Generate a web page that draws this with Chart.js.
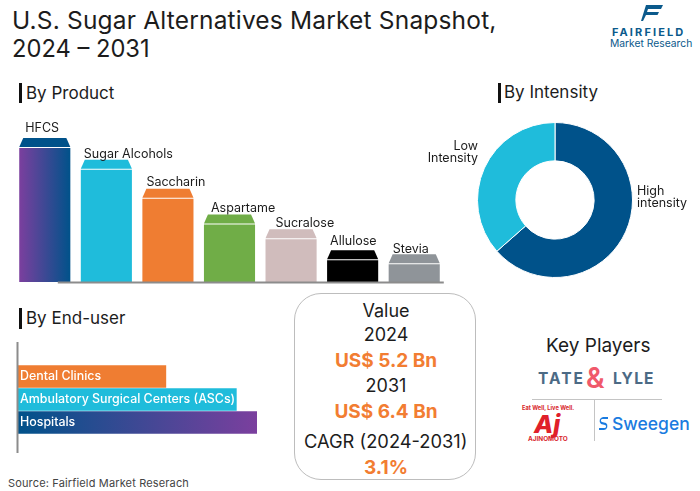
<!DOCTYPE html>
<html>
<head>
<meta charset="utf-8">
<script src="https://cdn.jsdelivr.net/npm/chart.js@4"></script>
<style>
  html, body { margin: 0; padding: 0; background: #fff; }
  #page { position: relative; width: 700px; height: 491px; overflow: hidden; font-family: Inter, "Noto Sans", sans-serif; color: #1c1c1c; }
  #page canvas { position: absolute; }
  .t { position: absolute; white-space: nowrap; line-height: 1; }
  .c { left: 296px; width: 180px; text-align: center; }
  .orange { color: #f27d32; font-weight: 700; }
  .tick { position: absolute; width: 3px; background: #111; }
  .head { font-size: 17px; }
</style>
</head>
<body>
<div id="page">
  <div class="t" style="left:12px;top:8px;font-size:24.5px;letter-spacing:0.18px;">U.S. Sugar Alternatives Market Snapshot,</div>
  <div class="t" style="left:12px;top:37px;font-size:23.7px;">2024 – 2031</div>

  <svg style="position:absolute;left:640px;top:5px" width="24" height="17" viewBox="0 0 24 17">
    <path d="M6 0H23L21 4H8L7 7H19L17.5 10H6L3 16H1Z" fill="#0b5a8c"/>
  </svg>
  <div class="t" style="left:612px;top:27px;font-size:11px;font-weight:700;letter-spacing:2.1px;color:#0b5a8c;">FAIRFIELD</div>
  <div class="t" style="left:610px;top:38px;font-size:10.3px;color:#0b5a8c;">Market Research</div>

  <div class="tick" style="left:19px;top:83px;height:20px;"></div>
  <div class="t head" style="left:26px;top:85px;">By Product</div>
  <div class="tick" style="left:498px;top:83px;height:20px;"></div>
  <div class="t head" style="left:504px;top:84px;">By Intensity</div>
  <div class="tick" style="left:19px;top:308px;height:21px;"></div>
  <div class="t head" style="left:26px;top:310px;">By End-user</div>

  <canvas id="productChart" width="431" height="175" style="left:14px;top:109px;"></canvas>
  <canvas id="intensityChart" width="270" height="170" style="left:420px;top:115px;"></canvas>
  <canvas id="endUserChart" width="260" height="115" style="left:16px;top:340px;"></canvas>

  <div style="position:absolute;left:294px;top:293px;width:180px;height:185px;border:1px solid #bdbdbd;border-radius:27px;"></div>
  <div class="t c" style="top:302px;font-size:18px;">Value</div>
  <div class="t c" style="top:326px;font-size:18px;">2024</div>
  <div class="t c orange" style="top:351px;font-size:19px;">US$ 5.2 Bn</div>
  <div class="t c" style="top:377px;font-size:18px;">2031</div>
  <div class="t c orange" style="top:402px;font-size:19px;">US$ 6.4 Bn</div>
  <div class="t" style="left:304px;top:432px;font-size:18.3px;">CAGR (2024-2031)</div>
  <div class="t c orange" style="top:458px;font-size:19px;">3.1%</div>

  <div class="t" style="left:546px;top:336px;font-size:19px;">Key Players</div>
  <div class="t" style="left:538px;top:371px;font-size:15.5px;font-weight:700;letter-spacing:2px;color:#4c6a85;">TATE</div>
  <div class="t" style="left:586px;top:364px;font-size:28px;font-weight:600;color:#f0596b;">&amp;</div>
  <div class="t" style="left:613px;top:371px;font-size:15.5px;font-weight:700;letter-spacing:1.2px;color:#4c6a85;">LYLE</div>
  <div style="position:absolute;left:532px;top:399px;width:130px;height:1px;background:#c4c4c4;"></div>
  <div style="position:absolute;left:594px;top:399px;width:1px;height:42px;background:#c4c4c4;"></div>
  <div class="t" style="left:522px;top:405px;font-size:5.7px;font-weight:700;color:#d8262c;">Eat Well, Live Well.</div>
  <div class="t" style="left:534px;top:412px;font-size:25px;font-weight:800;font-style:italic;color:#e0202a;">Aj</div>
  <div class="t" style="left:528px;top:436px;font-size:6.4px;font-weight:700;color:#d8262c;">AJINOMOTO</div>
  <svg style="position:absolute;left:597px;top:416px" width="13" height="15" viewBox="0 0 13 15">
    <path d="M11 1H6A4 4 0 0 0 4 8L8 9A1.5 1.5 0 0 1 7 12H2V14H7A4 4 0 0 0 9 7L5 6A1.5 1.5 0 0 1 6 3H11Z" fill="#1a7be0"/>
  </svg>
  <div class="t" style="left:612px;top:415px;font-size:17.5px;font-weight:500;color:#1a7be0;">Sweegen</div>

  <div class="t" style="left:8px;top:478px;font-size:11px;letter-spacing:0.15px;color:#444;">Source: Fairfield Market Reserach</div>
</div>

<script>
const productLabels = ["HFCS", "Sugar Alcohols", "Saccharin", "Aspartame", "Sucralose", "Allulose", "Stevia"];
const productValues = [100, 83.7, 62.2, 42.9, 31.9, 16.3, 13.3];
const intensityLabels = [["High", "intensity"], ["Low", "Intensity"]];
const intensityValues = [63.5, 36.5];
const endUserLabels = ["Dental Clinics", "Ambulatory Surgical Centers (ASCs)", "Hospitals"];
const endUserValues = [62, 91.5, 100];

const productColors = ["#00528a", "#1fbcdb", "#ef7d32", "#70ad47", "#d0bcbc", "#000000", "#8f9499"];
const labelShift = [6, 3, 4, 7, 10, 3, 4];
const labelLift = [20, 16, 16, 16, 16, 19, 15];
const LABEL_FONT = "12.5px Inter, 'Noto Sans', sans-serif";

Chart.defaults.animation = false;
Chart.defaults.responsive = false;
Chart.defaults.plugins.legend.display = false;
Chart.defaults.plugins.tooltip.enabled = false;

// ---------------------------
// BY PRODUCT
// ---------------------------
const productCaps = {
    id: "productCaps",
    afterDatasetsDraw(chart) {
        const ctx = chart.ctx;
        const bars = chart.getDatasetMeta(0).data;
        const base = chart.scales.y.bottom;

        ctx.save();
        ctx.fillStyle = "#8c8c8c";
        ctx.fillRect(bars[0].x + 13, base - 0.5, 386, 2);

        bars.forEach((bar, i) => {
            const half = bar.width / 2;
            ctx.fillStyle = productColors[i];
            ctx.beginPath();
            ctx.moveTo(bar.x - half, bar.y - 1);
            ctx.lineTo(bar.x - half + 4, bar.y - 10);
            ctx.lineTo(bar.x + half - 4, bar.y - 10);
            ctx.lineTo(bar.x + half, bar.y - 1);
            ctx.closePath();
            ctx.fill();

            ctx.fillStyle = "#1c1c1c";
            ctx.font = LABEL_FONT;
            ctx.textBaseline = "middle";
            ctx.fillText(productLabels[i], bar.x - half + labelShift[i], bar.y - labelLift[i]);
        });
        ctx.restore();
    }
};

new Chart(document.getElementById("productChart"), {
    type: "bar",
    data: {
        labels: productLabels,
        datasets: [{
            data: productValues,
            barPercentage: 0.83,
            categoryPercentage: 1,
            backgroundColor: c => {
                if (c.dataIndex !== 0 || !c.chart.chartArea) return productColors[c.dataIndex];
                const area = c.chart.chartArea;
                const step = area.width / productValues.length;
                const pad = step * (1 - 0.83) / 2;
                const g = c.chart.ctx.createLinearGradient(area.left + pad, 0, area.left + step - pad, 0);
                g.addColorStop(0, "#7b3f9e");
                g.addColorStop(1, "#00528a");
                return g;
            }
        }]
    },
    options: {
        layout: { padding: { top: 39, bottom: 2 } },
        scales: {
            x: { display: false },
            y: { display: false, min: 0, max: 100 }
        }
    },
    plugins: [productCaps]
});

// ---------------------------
// BY INTENSITY
// ---------------------------
const intensityText = {
    id: "intensityText",
    afterDatasetsDraw(chart) {
        const ctx = chart.ctx;
        const arc = chart.getDatasetMeta(0).data[0];
        ctx.save();
        ctx.fillStyle = "#1c1c1c";
        ctx.font = LABEL_FONT;
        ctx.textBaseline = "middle";
        ctx.textAlign = "left";
        intensityLabels[0].forEach((line, i) => ctx.fillText(line, arc.x + 82, arc.y - 9 + i * 12.5));
        ctx.textAlign = "right";
        intensityLabels[1].forEach((line, i) => ctx.fillText(line, arc.x - 77, arc.y - 54 + i * 12.5));
        ctx.restore();
    }
};

new Chart(document.getElementById("intensityChart"), {
    type: "doughnut",
    data: {
        labels: intensityLabels,
        datasets: [{
            data: intensityValues,
            backgroundColor: ["#00528a", "#1fbcdb"],
            borderColor: "#fff",
            borderWidth: 1
        }]
    },
    options: {
        cutout: "50.5%",
        layout: { padding: { left: 57, right: 57, top: 7, bottom: 7 } }
    },
    plugins: [intensityText]
});

// ---------------------------
// BY END-USER
// ---------------------------
const endUserText = {
    id: "endUserText",
    afterDatasetsDraw(chart) {
        const ctx = chart.ctx;
        const bars = chart.getDatasetMeta(0).data;
        ctx.save();
        ctx.fillStyle = "#8c8c8c";
        ctx.fillRect(chart.scales.x.left - 1.5, 2, 2, 111);
        ctx.fillStyle = "#fff";
        ctx.font = "500 12.4px Inter, 'Noto Sans', sans-serif";
        ctx.textBaseline = "middle";
        bars.forEach((bar, i) => ctx.fillText(endUserLabels[i], chart.scales.x.left + 2, bar.y));
        ctx.restore();
    }
};

new Chart(document.getElementById("endUserChart"), {
    type: "bar",
    data: {
        labels: endUserLabels,
        datasets: [{
            data: endUserValues,
            barPercentage: 0.97,
            categoryPercentage: 1,
            backgroundColor: c => {
                if (c.dataIndex !== 2 || !c.chart.chartArea) return ["#ef7d32", "#1fbcdb", "#00528a"][c.dataIndex];
                const area = c.chart.chartArea;
                const g = c.chart.ctx.createLinearGradient(area.left, 0, area.right, 0);
                g.addColorStop(0, "#00528a");
                g.addColorStop(1, "#7b3f9e");
                return g;
            }
        }]
    },
    options: {
        indexAxis: "y",
        layout: { padding: { left: 2, right: 19, top: 25, bottom: 21 } },
        scales: {
            x: { display: false, min: 0, max: 100 },
            y: { display: false }
        }
    },
    plugins: [endUserText]
});
</script>
</body>
</html>
